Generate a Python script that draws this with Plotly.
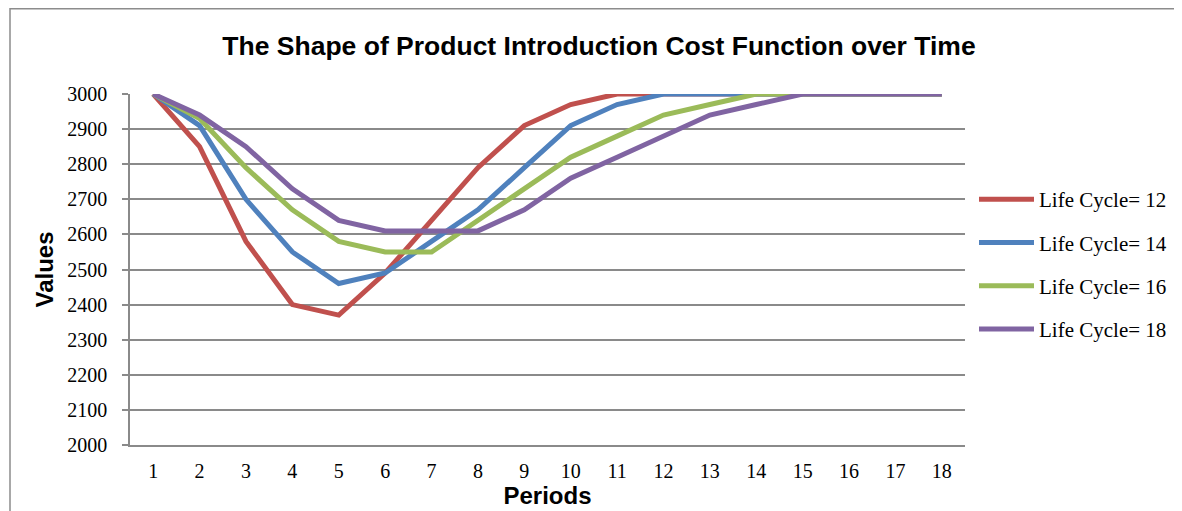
import plotly.graph_objects as go

periods = [str(i) for i in range(1, 19)]
series_names = ["Life Cycle= 12", "Life Cycle= 14", "Life Cycle= 16", "Life Cycle= 18"]
lc12 = [3000, 2850, 2580, 2400, 2370, 2490, 2640, 2790, 2910, 2970, 3000, 3000, 3000, 3000, 3000, 3000, 3000, 3000]
lc14 = [3000, 2910, 2700, 2550, 2460, 2490, 2580, 2670, 2790, 2910, 2970, 3000, 3000, 3000, 3000, 3000, 3000, 3000]
lc16 = [3000, 2930, 2790, 2670, 2580, 2550, 2550, 2640, 2730, 2820, 2880, 2940, 2970, 3000, 3000, 3000, 3000, 3000]
lc18 = [3000, 2940, 2850, 2730, 2640, 2610, 2610, 2610, 2670, 2760, 2820, 2880, 2940, 2970, 3000, 3000, 3000, 3000]
colors = ["#C0504D", "#4F81BD", "#9BBB59", "#8064A2"]

# page body has an 8px margin, so figure coords = screen coords - 8
W, H = 1174, 503
L, R, T, B = 122, 217, 86, 66
pw, ph = W - L - R, H - T - B

fig = go.Figure()
for i, (name, vals) in enumerate(zip(series_names, [lc12, lc14, lc16, lc18])):
    fig.add_trace(go.Scatter(
        x=periods, y=vals, name=name, mode="lines",
        line=dict(color=colors[i], width=5),
        legendgroup=name,
    ))

grid = "#8a8a8a"
serif = "Liberation Serif, Times New Roman, serif"
sans = "Liberation Sans, Arial, sans-serif"
fig.update_layout(
    width=W, height=H,
    margin=dict(l=L, r=R, t=T, b=B, autoexpand=False),
    paper_bgcolor="white", plot_bgcolor="white",
    title=dict(
        text="The Shape of Product Introduction Cost Function over Time",
        font=dict(family=sans, size=26.5, color="black", weight="bold"),
        x=591 / W, xref="container", xanchor="center",
        y=1 - 38 / H, yref="container", yanchor="middle",
    ),
    xaxis=dict(
        type="category", range=[-0.5, 17.5], automargin=False,
        showgrid=False, showline=True, linecolor=grid, linewidth=1.5,
        ticks="", ticklabelstandoff=7,
        tickfont=dict(family=serif, size=20, color="black"),
        title=dict(text="Periods", font=dict(family=sans, size=24, color="black", weight="bold"), standoff=5),
        zeroline=False,
    ),
    yaxis=dict(
        range=[2000, 3000], dtick=100, tick0=2000, automargin=False,
        showgrid=True, gridcolor=grid, gridwidth=1.5,
        showline=True, linecolor=grid, linewidth=1.5,
        ticks="outside", ticklen=6, tickcolor=grid, tickwidth=1.5,
        ticklabelstandoff=11,
        tickfont=dict(family=serif, size=20, color="black"),
        title=dict(text="Values", font=dict(family=sans, size=24, color="black", weight="bold"), standoff=7),
        zeroline=False,
    ),
    legend=dict(
        x=(966 - L) / pw, xanchor="left", y=1 - (171 - T) / ph, yanchor="top",
        font=dict(family=serif, size=21, color="black"),
        tracegroupgap=13, bgcolor="rgba(0,0,0,0)", itemwidth=55,
    ),
    showlegend=True,
)

# outer chart border
fig.add_shape(
    type="rect", xref="paper", yref="paper",
    x0=(2 - L) / pw, x1=(1190 - L) / pw,
    y0=-(530 - (T + ph)) / ph, y1=1 + (T - 0.75) / ph,
    line=dict(color="#8c8c8c", width=1.5), fillcolor="rgba(0,0,0,0)", layer="below",
)

fig.write_html("out.html")
